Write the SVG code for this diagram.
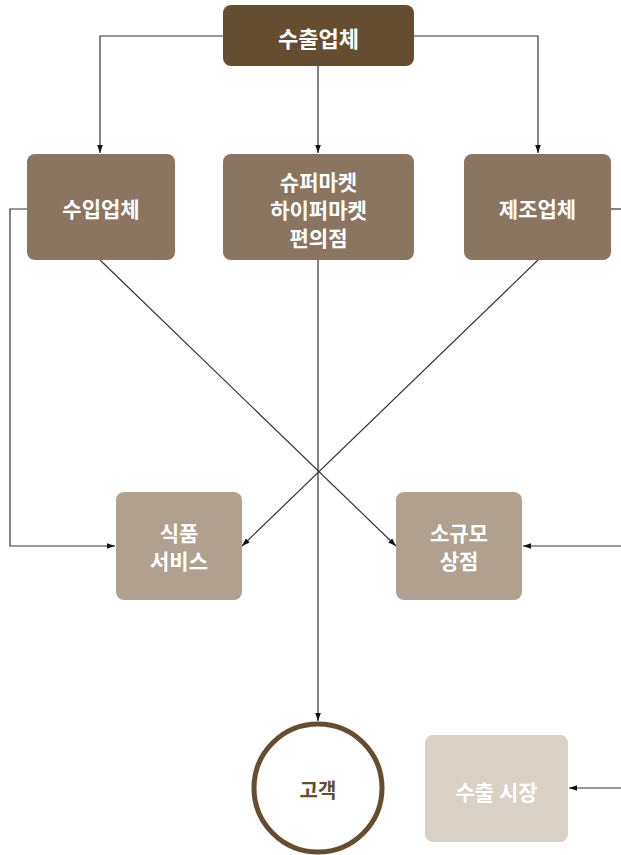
<svg xmlns="http://www.w3.org/2000/svg" width="621" height="855" viewBox="0 0 621 855">
<style>
.t{font-family:"Noto Sans CJK KR","Noto Sans",sans-serif;font-weight:700;fill:#fff;text-anchor:middle;dominant-baseline:central}
.c{fill:none;stroke:#333;stroke-width:1.2}
</style>
<defs>
<marker id="a" viewBox="0 0 10 10" refX="10" refY="5" markerWidth="8" markerHeight="8" markerUnits="userSpaceOnUse" orient="auto"><path d="M0,1.5 L10,5 L0,8.5 Z" fill="#111"/></marker>
</defs>
<g id="connectors">
<path class="c" d="M223,36 H100 V153" marker-end="url(#a)"/>
<path class="c" d="M318,66 V153" marker-end="url(#a)"/>
<path class="c" d="M414,36 H538 V153" marker-end="url(#a)"/>
<path class="c" d="M27,209 H10 V546 H115" marker-end="url(#a)"/>
<path class="c" d="M611,209 H621"/>
<path class="c" d="M621,546 H523" marker-end="url(#a)"/>
<path class="c" d="M621,788 H569" marker-end="url(#a)"/>
<path class="c" d="M100,260 L396,546" marker-end="url(#a)"/>
<path class="c" d="M538,260 L242,546" marker-end="url(#a)"/>
<path class="c" d="M318,260 V721" marker-end="url(#a)"/>
</g>
<g id="n-export">
<rect x="223" y="5" width="191" height="61" rx="8" fill="#654e2f"/>
<text class="t" x="318.5" y="37" font-size="22">수출업체</text>
</g>
<g id="n-import">
<rect x="27" y="154" width="148" height="106" rx="8" fill="#8a7660"/>
<text class="t" x="101" y="208" font-size="21">수입업체</text>
</g>
<g id="n-super">
<rect x="223" y="154" width="191" height="106" rx="8" fill="#8a7660"/>
<text class="t" x="318.5" y="181" font-size="21">슈퍼마켓</text>
<text class="t" x="318.5" y="209" font-size="21">하이퍼마켓</text>
<text class="t" x="318.5" y="237" font-size="21">편의점</text>
</g>
<g id="n-maker">
<rect x="464" y="154" width="147" height="106" rx="8" fill="#8a7660"/>
<text class="t" x="537.5" y="208" font-size="21">제조업체</text>
</g>
<g id="n-food">
<rect x="116" y="492" width="126" height="108" rx="8" fill="#b0a08f"/>
<text class="t" x="179" y="532" font-size="21">식품</text>
<text class="t" x="179" y="560" font-size="21">서비스</text>
</g>
<g id="n-small">
<rect x="396" y="492" width="126" height="108" rx="8" fill="#b0a08f"/>
<text class="t" x="459" y="532" font-size="21">소규모</text>
<text class="t" x="459" y="560" font-size="21">상점</text>
</g>
<g id="n-customer">
<circle cx="318" cy="788" r="64" fill="#fff" stroke="#654e2f" stroke-width="5"/>
<text class="t" x="318" y="789" font-size="20" style="fill:#654e2f">고객</text>
</g>
<g id="n-market">
<rect x="425" y="735" width="143" height="107" rx="8" fill="#d9d0c6"/>
<text class="t" x="496.5" y="791" font-size="21">수출 시장</text>
</g>
</svg>
